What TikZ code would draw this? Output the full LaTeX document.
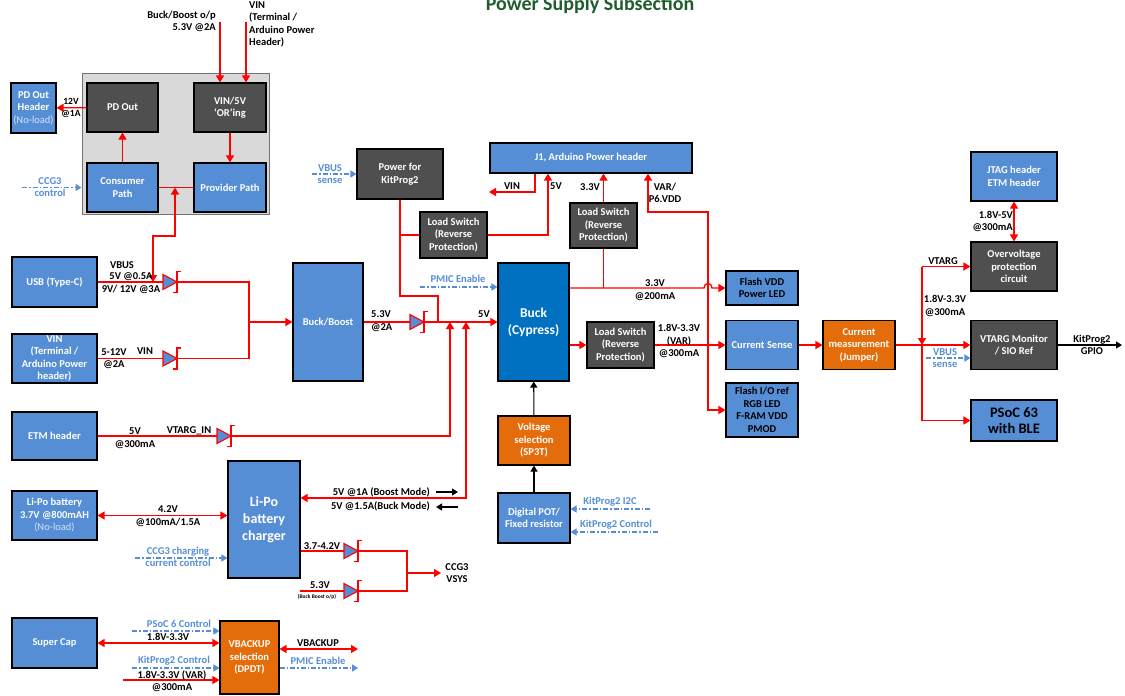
\documentclass[tikz,border=0pt]{standalone}
\usepackage{fontspec}
\setmainfont{Carlito}
\usetikzlibrary{arrows.meta, positioning, calc}

\definecolor{boxblue}{HTML}{558ED5}
\definecolor{buckblue}{HTML}{0070C0}
\definecolor{boxgray}{HTML}{4F4F4F}
\definecolor{boxorange}{HTML}{E46C0A}
\definecolor{ctrlblue}{HTML}{558ED5}
\definecolor{panelgray}{HTML}{D9D9D9}
\definecolor{titlegreen}{HTML}{1F5C2E}
\definecolor{noloadcol}{HTML}{D6E3F5}

\newcommand{\noload}{{\mdseries\color{noloadcol}(No-load)}}

\tikzset{%
    wh/.style 2 args={
        minimum width=#1pt,
        minimum height=#2pt,
    },
    nodesty/.style={
        draw,
        line width=1.1pt,
        align=center,
        inner sep=1pt,
        text=white,
        font=\bfseries\fontsize{10.5}{12.5}\selectfont,
    },
    bluesty/.style={nodesty, fill=boxblue},
    graysty/.style={nodesty, fill=boxgray},
    orangesty/.style={nodesty, fill=boxorange},
    panelsty/.style={draw=black!55, line width=1pt, fill=panelgray},
    pwrsty/.style={draw=red, line width=1.3pt},
    pwrarr/.style={pwrsty, -{Triangle[length=7pt,width=8pt]}},
    pwrdbl/.style={pwrsty, {Triangle[length=7pt,width=8pt]}-{Triangle[length=7pt,width=8pt]}},
    sigarr/.style={draw=black, line width=1.1pt, -{Triangle[length=6pt,width=7pt]}},
    ctrlarr/.style={
        draw=ctrlblue,
        line width=1.6pt,
        dash pattern=on 5pt off 2pt on 1.5pt off 2pt,
        -{Triangle[length=6pt,width=7pt]},
    },
    lblsty/.style={font=\bfseries\fontsize{10.5}{12.5}\selectfont, align=center, inner sep=0pt},
    clblsty/.style={lblsty, font=\bfseries\fontsize{10.5}{12}\selectfont, text=ctrlblue},
    diode/.pic={
        \draw[red, line width=1.1pt, fill=boxblue] (-8,-7.5) -- (6,0) -- (-8,7.5) -- cycle;
        \draw[red, line width=1.1pt] (10,-10.5) -- (6,-10.5) -- (6,10.5) -- (2,10.5);
    },
}

\begin{document}
\begin{tikzpicture}[x=1pt, y=-1pt]
\useasboundingbox (0,0) rectangle (1125,696);

% title
\node (title) [anchor=base, text=titlegreen, font=\bfseries\fontsize{20}{24}\selectfont] at (590,10) {Power Supply Subsection};

% PD controller panel
\node (panel) [panelsty, wh={187}{141}] at (175.5,143.5) {};
\node (pdout) [graysty, wh={71}{49}] at (122.5,107.5) {PD Out};
\node (oring) [graysty, wh={72}{49}] at (230,107.5) {VIN/5V\\`OR'ing};
\node (consumer) [bluesty, wh={71}{49}] at (122.5,187.5) {Consumer\\Path};
\node (provider) [bluesty, wh={72}{49}] at (230,187.5) {Provider Path};
\node (pdhdr) [bluesty, wh={45}{50}] at (33.5,108) {PD Out\\Header\\\noload};

% left column
\node (usb) [bluesty, wh={85}{50}] at (54.5,282) {USB (Type-C)};
\node (vinbox) [bluesty, wh={85}{49}] at (54.5,358.5) {VIN\\(Terminal /\\Arduino Power\\header)};
\node (etm) [bluesty, wh={85}{48}] at (54.5,436) {ETM header};
\node (lipo) [bluesty, wh={85}{49}] at (54.5,515.5) {Li-Po battery\\3.7V @800mAH\\\noload};
\node (supercap) [bluesty, wh={85}{50}] at (54.5,643) {Super Cap};

% middle blocks
\node (bboost) [bluesty, wh={70}{118}] at (328,322) {Buck/Boost};
\node (charger) [bluesty, wh={72}{117}, font=\bfseries\fontsize{14}{17}\selectfont] at (264,519.5) {Li-Po\\battery\\charger};
\node (vbackup) [orangesty, wh={59}{73}] at (249.5,657.5) {VBACKUP\\selection\\(DPDT)};
\node (pkit) [graysty, wh={86}{50}] at (400,174) {Power for\\KitProg2};
\node (ls1) [graysty, wh={67}{46}] at (453.5,235) {Load Switch\\(Reverse\\Protection)};
\node (j1) [bluesty, wh={202}{30}] at (591,158) {J1, Arduino Power header};
\node (ls2) [graysty, wh={67}{45}] at (603.5,225.5) {Load Switch\\(Reverse\\Protection)};
\node (buck) [nodesty, fill=buckblue, wh={71}{118}, font=\bfseries\fontsize{13.5}{17}\selectfont] at (533.5,322) {Buck\\(Cypress)};
\node (ls3) [graysty, wh={67}{46}] at (620.5,345) {Load Switch\\(Reverse\\Protection)};
\node (vsel) [orangesty, wh={72}{49}] at (534,440.5) {Voltage\\selection\\(SP3T)};
\node (dpot) [bluesty, wh={72}{50}] at (534,518) {Digital POT/\\Fixed resistor};

% right blocks
\node (flashvdd) [bluesty, text=black, wh={72}{34}] at (762,288) {Flash VDD\\Power LED};
\node (csense) [bluesty, wh={72}{49}] at (762,345) {Current Sense};
\node (flashio) [bluesty, text=black, wh={72}{54}] at (762,410) {Flash I/O ref\\RGB LED\\F-RAM VDD\\PMOD};
\node (cmeas) [orangesty, wh={72}{49}] at (859,345) {Current\\measurement\\(Jumper)};
\node (jtag) [bluesty, wh={86}{49}] at (1014,176.5) {JTAG header\\ETM header};
\node (ovp) [graysty, wh={86}{49}] at (1014,266.5) {Overvoltage\\protection\\circuit};
\node (vtmon) [graysty, wh={86}{49}] at (1014,345) {VTARG Monitor\\/ SIO Ref};
\node (psoc) [bluesty, text=black, wh={86}{41}, font=\bfseries\fontsize{14.5}{16.5}\selectfont] at (1014,420.5) {PSoC 63\\with BLE};

% free ends
\coordinate (pdj) at (175,187.5);
\coordinate (usbj) at (153,282);
\coordinate (bbsrc) at (220,22);
\coordinate (vinsrc) at (246,22);
\coordinate (ccgsrc) at (22,187.5);
\coordinate (bbj) at (249,322);
\coordinate (etmj) at (450,322);
\coordinate (chgj) at (466,322);
\coordinate (chgturn) at (466,498);
\coordinate (pkturn) at (438,296);
\coordinate (vinout) at (489,192);
\coordinate (varj) at (708,345);
\coordinate (hopl) at (704,288);
\coordinate (hopr) at (712,288);
\coordinate (pmicsrc) at (420,287);
\coordinate (vbussrc) at (312,174);
\coordinate (i2csrc) at (650,509);
\coordinate (kpcsrc) at (658,532);
\coordinate (vtj) at (922,345);
\coordinate (vttop) at (vtj |- ovp.west);
\coordinate (vbus2src) at (926,358);
\coordinate (gpio) at (1122,345);
\coordinate (ccgchg) at (135,558);
\coordinate (vsysa) at (407,551);
\coordinate (vsysb) at (407,591);
\coordinate (vsysj) at (407,573);
\coordinate (vsys) at (441,573);
\coordinate (bbosrc) at (300,591);
\coordinate (boosta) at (436,492);
\coordinate (boostb) at (458,492);
\coordinate (bucka) at (458,507);
\coordinate (buckb) at (436,507);
\coordinate (ps6src) at (132,631);
\coordinate (kp2src) at (132,668);
\coordinate (varsrc) at (123,680);
\coordinate (vbkout) at (358,649);
\coordinate (pmicout) at (358,668);

% PD panel links
\draw[pwrarr] (pdout) -- (pdhdr);
\draw[pwrarr] (consumer) -- (pdout);
\draw[pwrarr] (oring) -- (provider);
\draw[pwrsty] (consumer) -- (provider);
\draw[pwrdbl] (usbj) -- (153,236) -- (175,236) -- (pdj);
\draw[pwrarr] (bbsrc) -- (oring.north -| bbsrc);
\draw[pwrarr] (vinsrc) -- (oring.north -| vinsrc);
\draw[ctrlarr] (ccgsrc) -- (panel.west |- ccgsrc);

% inputs of buck/boost
\draw[pwrsty] (usb.east) -| (bbj);
\draw[pwrsty] (vinbox.east) -| (bbj);
\draw[pwrarr] (bbj) -- (bboost.west);
\pic at (171,282) {diode};
\pic at (171,358.5) {diode};

% 5V rail
\draw[pwrarr] (bboost.east) -- (buck.west);
\draw[pwrarr] (etm.east) -| (etmj);
\pic at (225,436) {diode};
\draw[pwrdbl] (chgj) -- (chgturn) -- (charger.east |- chgturn);
\pic at (418,322) {diode};
\draw[pwrsty] (pkit.south) |- (pkturn) -- (pkturn |- buck.west);
\draw[pwrsty] (pkit.south |- ls1.west) -- (ls1.west);
\draw[ctrlarr] (vbussrc) -- (pkit.west);
\draw[ctrlarr] (pmicsrc) -- (buck.west |- pmicsrc);

% arduino header
\draw[pwrarr] (ls1.east) -| ([xshift=-43pt]j1.south);
\draw[pwrarr] ([xshift=-56pt]j1.south) |- (vinout);
\draw[pwrarr] (ls2.north) -- (ls2.north |- j1.south);
\draw[pwrsty] (ls2.south) -- (ls2.south |- flashvdd.west);
\draw[pwrdbl] ([xshift=57pt]j1.south) |- (708,212) -- (varj) |- (flashio.west);

% buck outputs
\draw[pwrarr] (buck.east |- flashvdd.west) -- (hopl) .. controls (704,282) and (712,282) .. (hopr) -- (flashvdd.west);
\draw[pwrarr] (buck.east |- ls3.west) -- (ls3.west);
\draw[pwrarr] (ls3.east) -- (csense.west);
\draw[sigarr] (vsel) -- (buck);
\draw[sigarr] (dpot) -- (vsel);
\draw[ctrlarr] (i2csrc) -- (dpot.east |- i2csrc);
\draw[ctrlarr] (kpcsrc) -- (dpot.east |- kpcsrc);

% target side
\draw[pwrarr] (csense) -- (cmeas);
\draw[pwrarr] (cmeas) -- (vtmon);
\draw[pwrarr] (vttop) -- (ovp.west);
\draw[pwrarr] (vttop) -- (vtj);
\draw[pwrarr] (vtj) |- (psoc.west);
\draw[pwrdbl] (jtag) -- (ovp);
\draw[ctrlarr] (vbus2src) -- (vtmon.west |- vbus2src);
\draw[sigarr] (vtmon) -- (gpio);

% battery
\draw[pwrdbl] (lipo) -- (lipo -| charger.west);
\draw[ctrlarr] (ccgchg) -- (charger.west |- ccgchg);
\draw[pwrsty] (charger.east |- vsysa) -- (vsysa) -- (vsysb) -- (bbosrc);
\draw[pwrarr] (vsysj) -- (vsys);
\pic at (352,551) {diode};
\pic at (352,591) {diode};
\draw[sigarr] (boosta) -- (boostb);
\draw[sigarr] (bucka) -- (buckb);

% backup
\draw[ctrlarr] (ps6src) -- (vbackup.west |- ps6src);
\draw[pwrdbl] (supercap) -- (supercap -| vbackup.west);
\draw[ctrlarr] (kp2src) -- (vbackup.west |- kp2src);
\draw[pwrarr] (varsrc) -- (vbackup.west |- varsrc);
\draw[pwrdbl] (vbackup.east |- vbkout) -- (vbkout);
\draw[ctrlarr] (vbackup.east |- pmicout) -- (pmicout);

% labels
\node (lbl12v) [lblsty, font=\bfseries\fontsize{9.5}{12}\selectfont] at (71,108) {12V\\@1A};
\node (lblbbo) [lblsty, anchor=east, align=right] at (216,21.5) {Buck/Boost o/p\\5.3V @2A};
\node (lblvin) [lblsty, anchor=west, align=left] at (249,24.5) {VIN\\(Terminal /\\Arduino Power\\Header)};
\node (lblccg) [clblsty] at (50,187) {CCG3\\control};
\node (lblvbus) [lblsty] at (122,265) {VBUS};
\node (lblusbv) [lblsty] at (131,283) {5V @0.5A\\9V/ 12V @3A};
\node (lblvin12) [lblsty] at (114,358.5) {5-12V\\@2A};
\node (lblvinv) [lblsty] at (145,351) {VIN};
\node (lbletm) [lblsty] at (135,438) {5V\\@300mA};
\node (lblvtin) [lblsty] at (189,431) {VTARG\_IN};
\node (lblbb53) [lblsty, anchor=west, align=left] at (371,321) {5.3V\\@2A};
\node (lbl5v) [lblsty] at (484,314) {5V};
\node (lblpmic) [clblsty] at (458,279) {PMIC Enable};
\node (lblvbus1) [clblsty] at (330,174) {VBUS\\sense};
\node (lbljvin) [lblsty] at (512,186) {VIN};
\node (lblj5v) [lblsty] at (556,186) {5V};
\node (lblj33) [lblsty] at (590,187) {3.3V};
\node (lblvar) [lblsty] at (665,193) {VAR/\\P6.VDD};
\node (lbl33v) [lblsty] at (655,290) {3.3V\\@200mA};
\node (lblls3) [lblsty] at (679,341) {1.8V-3.3V\\(VAR)\\@300mA};
\node (lblvtarg) [lblsty] at (943,261) {VTARG};
\node (lbljtag) [lblsty, anchor=east, align=right] at (1013,221.5) {1.8V-5V\\@300mA};
\node (lblvt33) [lblsty] at (945,306) {1.8V-3.3V\\@300mA};
\node (lblvbus2) [clblsty] at (945,358) {VBUS\\sense};
\node (lblgpio) [lblsty] at (1092,345) {KitProg2\\GPIO};
\node (lblboost) [lblsty, anchor=east] at (430,492) {5V @1A (Boost Mode)};
\node (lblbuckm) [lblsty, anchor=east] at (430,506) {5V @1.5A(Buck Mode)};
\node (lbllipo) [lblsty] at (168,516) {4.2V\\@100mA/1.5A};
\node (lblccgchg) [clblsty] at (178,557) {CCG3 charging\\current control};
\node (lbl37) [lblsty] at (322,546) {3.7-4.2V};
\node (lbl53) [lblsty] at (320,585) {5.3V};
\node (lblbbop) [lblsty, font=\bfseries\fontsize{5.5}{6}\selectfont] at (317,597) {(Buck Boost o/p)};
\node (lblvsys) [lblsty] at (457,573) {CCG3\\VSYS};
\node (lbli2c) [clblsty] at (610,502) {KitProg2 I2C};
\node (lblkpc) [clblsty] at (616,525) {KitProg2 Control};
\node (lblps6) [clblsty] at (179,624) {PSoC 6 Control};
\node (lblsc) [lblsty] at (168,637) {1.8V-3.3V};
\node (lblkp2) [clblsty] at (174,661) {KitProg2 Control};
\node (lblvar2) [lblsty] at (172,681) {1.8V-3.3V (VAR)\\@300mA};
\node (lblvbk) [lblsty] at (318,643) {VBACKUP};
\node (lblpmic2) [clblsty] at (318,661) {PMIC Enable};

\end{tikzpicture}
\end{document}
